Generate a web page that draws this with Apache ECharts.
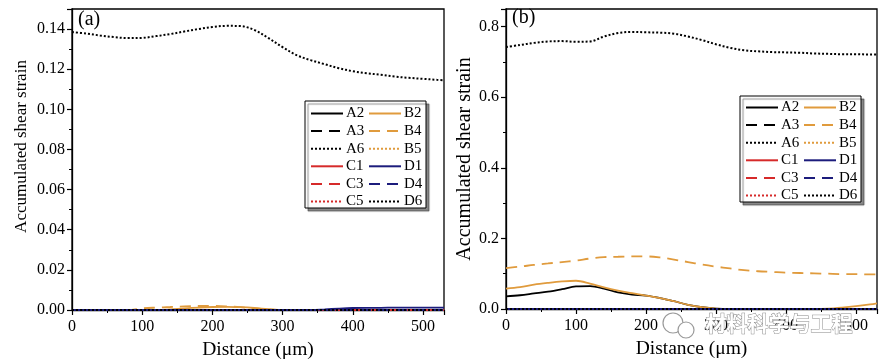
<!DOCTYPE html>
<html>
<head>
<meta charset="utf-8">
<script src="https://cdn.jsdelivr.net/npm/echarts@6/dist/echarts.min.js"></script>
<style>
html,body{margin:0;padding:0;background:#fff;}
#chart{width:885px;height:361px;}
</style>
</head>
<body>
<div id="chart"></div>
<script>
// ---------------- DATA ----------------
const dist = [0,20,40,60,80,100,120,140,160,180,200,220,240,260,280,300,320,340,360,380,400,420,440,460,480,500,520,530];
const zeros = [0,0,0,0,0,0,0,0,0,0,0,0,0,0,0,0,0,0,0,0,0,0,0,0,0,0,0,0];

// panel (a)
const A6a = [0.1385,0.1378,0.1368,0.1360,0.1355,0.1356,0.1365,0.1375,0.1388,0.1400,0.1410,0.1416,0.1415,0.1395,0.1355,0.1310,0.1270,0.1245,0.1225,0.1205,0.1190,0.1180,0.1172,0.1163,0.1157,0.1152,0.1147,0.1145];
const B2a = [0,0,0,0,0,0,0,0.0003,0.0008,0.0012,0.0015,0.0016,0.0014,0.0010,0.0004,0,0,0,0,0,0,0,0,0,0,0,0,0];
const B4a = [0,0,0,0,0,0.0008,0.0012,0.0015,0.0018,0.0020,0.0020,0.0018,0.0014,0.0008,0.0003,0,0,0,0,0,0,0,0,0,0,0,0,0];
const D1a = [0,0,0,0,0,0,0,0,0,0,0,0,0,0,0,0,0,0,0.0003,0.0007,0.0010,0.0011,0.0011,0.0012,0.0012,0.0012,0.0012,0.0012];

// panel (b)
const A6b = [0.742,0.748,0.754,0.758,0.759,0.757,0.758,0.772,0.782,0.785,0.784,0.783,0.780,0.772,0.762,0.750,0.740,0.733,0.730,0.728,0.727,0.726,0.724,0.723,0.722,0.722,0.721,0.721];
const B4b = [0.116,0.120,0.125,0.129,0.133,0.137,0.143,0.147,0.148,0.149,0.149,0.146,0.140,0.133,0.126,0.120,0.115,0.110,0.107,0.105,0.103,0.102,0.101,0.100,0.099,0.099,0.098,0.098];
const B2b = [0.058,0.062,0.069,0.074,0.078,0.080,0.072,0.061,0.052,0.045,0.038,0.031,0.022,0.012,0.005,0.001,0,0,0,0,0,0,0,0.001,0.004,0.008,0.013,0.016];
const A2b = [0.036,0.039,0.044,0.049,0.056,0.064,0.065,0.058,0.047,0.041,0.038,0.031,0.022,0.012,0.005,0.001,0,0,0,0,0,0,0,0,0,0,0,0];

const legendCol1 = ['A2','A3','A6','C1','C3','C5'];
const legendCol2 = ['B2','B4','B5','D1','D4','D6'];
const seriesOrder = ['A2','A3','A6','B2','B4','B5','C1','C3','C5','D1','D4','D6'];

const panelA = {A2:zeros, A3:zeros, A6:A6a, B2:B2a, B4:B4a, B5:zeros, C1:zeros, C3:zeros, C5:zeros, D1:D1a, D4:zeros, D6:zeros};
const panelB = {A2:A2b, A3:zeros, A6:A6b, B2:B2b, B4:B4b, B5:zeros, C1:zeros, C3:zeros, C5:zeros, D1:zeros, D4:zeros, D6:zeros};

// ---------------- STYLE ----------------
const BLACK = '#000000', ORANGE = '#E09B3D', RED = '#D62A2A', NAVY = '#1C1C7C';
const DASH = [11, 7];
const styles = {
  A2:{color:BLACK, type:'solid', width:1.8},
  A3:{color:BLACK, type:DASH, width:1.8},
  A6:{color:BLACK, type:'dotted', width:2},
  B2:{color:ORANGE, type:'solid', width:1.8},
  B4:{color:ORANGE, type:DASH, width:1.8},
  B5:{color:ORANGE, type:'dotted', width:2},
  C1:{color:RED, type:'solid', width:1.8},
  C3:{color:RED, type:DASH, width:1.8},
  C5:{color:RED, type:'dotted', width:2},
  D1:{color:NAVY, type:'solid', width:1.8},
  D4:{color:NAVY, type:DASH, width:1.8},
  D6:{color:BLACK, type:'dotted', width:2}
};
const FONT = "'Liberation Serif', 'DejaVu Serif', serif";

function pairs(vals){ return dist.map((d,i)=>[d, vals[i]]); }

const series = [];
[panelA, panelB].forEach((panel, gi)=>{
  seriesOrder.forEach(name=>{
    const s = styles[name];
    series.push({
      name: name, type:'line', xAxisIndex: gi, yAxisIndex: gi,
      data: pairs(panel[name]), smooth: 0.35, symbol:'circle', symbolSize:0, showSymbol:false,
      lineStyle:{color:s.color, type:s.type, width:s.width},
      itemStyle:{color:s.color, opacity:0},
      emphasis:{disabled:true}, silent:true, animation:false
    });
  });
});

function xAxisCfg(gi){
  return {
    type:'value', gridIndex: gi, min:0, max:530, interval:100,
    name:'Distance (\u03bcm)', nameLocation:'middle', nameGap: 22,
    nameTextStyle:{fontFamily:FONT, fontSize:19.5, color:'#000'},
    axisLine:{show:true, onZero:false, lineStyle:{color:'#000', width:1.3}},
    axisTick:{show:true, inside:false, length:5, lineStyle:{color:'#000', width:1.2}},
    minorTick:{show:true, splitNumber:2, length:3, lineStyle:{color:'#000', width:1}},
    axisLabel:{fontFamily:FONT, fontSize:16, color:'#000', margin:9, showMaxLabel:false},
    splitLine:{show:false}
  };
}
function yAxisCfg(gi, max, interval, digits, gap, fs, pad){
  return {
    type:'value', gridIndex: gi, min:0, max:max, interval:interval,
    name:'Accumulated shear strain', nameLocation:'middle', nameGap: gap,
    nameTextStyle:{fontFamily:FONT, fontSize:fs, color:'#000', padding:pad},
    axisLine:{show:true, onZero:false, lineStyle:{color:'#000', width:1.3}},
    axisTick:{show:true, inside:false, length:5, lineStyle:{color:'#000', width:1.2}},
    minorTick:{show:true, splitNumber:2, length:3, lineStyle:{color:'#000', width:1}},
    axisLabel:{fontFamily:FONT, fontSize:16, color:'#000', margin:7, showMaxLabel:false,
      formatter: v => v.toFixed(digits)},
    splitLine:{show:false}
  };
}
function legendCfg(data, left, top){
  return {
    data: data, orient:'vertical', left:left, top:top,
    itemWidth:32, itemHeight:14, itemGap:2.6, padding:0,
    selectedMode:false,
    itemStyle:{opacity:0},
    textStyle:{fontFamily:FONT, fontSize:15, color:'#000', padding:[0,0,0,-2]}
  };
}
function boxCfg(x,y,w,h){
  return {type:'rect', shape:{x:x,y:y,width:w,height:h}, z:1,
    style:{fill:'#fff', stroke:'#000', lineWidth:1, shadowColor:'rgba(0,0,0,0.45)', shadowOffsetX:3, shadowOffsetY:3, shadowBlur:1}};
}

const option = {
  animation:false,
  backgroundColor:'#fff',
  grid:[
    {left:72, top:9, width:372, height:301, show:true, borderColor:'#000', borderWidth:1.3, backgroundColor:'transparent', containLabel:false, outerBoundsMode:'none'},
    {left:506, top:9, width:371, height:300, show:true, borderColor:'#000', borderWidth:1.3, backgroundColor:'transparent', containLabel:false, outerBoundsMode:'none'}
  ],
  xAxis:[xAxisCfg(0), xAxisCfg(1)],
  yAxis:[yAxisCfg(0, 0.15, 0.02, 2, 42, 17, [0,0,0,26]), yAxisCfg(1, 0.85, 0.2, 1, 30, 20, [0,0,0,0])],
  legend:[
    legendCfg(legendCol1, 310, 106),
    legendCfg(legendCol2, 368, 106),
    legendCfg(legendCol1, 745, 100),
    legendCfg(legendCol2, 803, 100)
  ],
  graphic:[
    boxCfg(305,101,121,107),
    boxCfg(740,96,121,106),
    {type:'text', left:78, top:10, z:10, style:{text:'(a)', font:"20px 'Liberation Serif'", fill:'#000'}},
    {type:'text', left:512, top:8, z:10, style:{text:'(b)', font:"20px 'Liberation Serif'", fill:'#000'}},
    {type:'circle', shape:{cx:673, cy:323, r:10}, z:50, style:{fill:'#fff', stroke:'#9a9a9a', lineWidth:1.2}},
    {type:'circle', shape:{cx:686, cy:330, r:8}, z:51, style:{fill:'#fff', stroke:'#9a9a9a', lineWidth:1.2}},
    {type:'text', left:705, top:312, z:52, style:{text:'材料科学与工程', font:"bold 21px 'Noto Sans CJK SC'", fill:'#ffffff', stroke:'#8a8a8a', lineWidth:1}}
  ],
  series: series
};

const chart = echarts.init(document.getElementById('chart'), null, {renderer:'canvas'});
chart.setOption(option);
</script>
</body>
</html>
